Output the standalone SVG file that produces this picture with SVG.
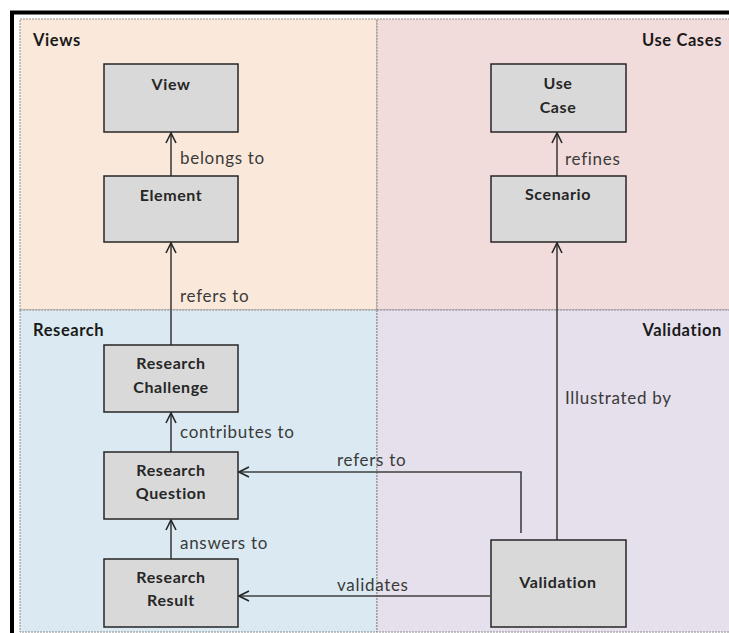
<svg xmlns="http://www.w3.org/2000/svg" width="729" height="633" viewBox="0 0 729 633">
<defs>
<style>
.node rect{fill:#D9D9D9;stroke:#262626;stroke-width:1.5}
.node text{font-family:Lato,"Open Sans","Liberation Sans",sans-serif;font-weight:bold;font-size:16px;letter-spacing:0.6px;fill:#262626;text-anchor:middle}
.title{font-family:Lato,"Open Sans","Liberation Sans",sans-serif;font-weight:bold;font-size:16.5px;letter-spacing:0.6px;fill:#1a1a1a}
.lbl{font-family:Lato,"Open Sans","Liberation Sans",sans-serif;font-size:17px;letter-spacing:0.7px;fill:#3a3a3a}
.conn{fill:none;stroke:#404040;stroke-width:1.6}
.quad{stroke:#8a8a8a;stroke-width:1;stroke-dasharray:2 1}
</style>
<marker id="arr" viewBox="0 0 12 12" refX="11" refY="6" markerWidth="12" markerHeight="12" markerUnits="userSpaceOnUse" orient="auto">
<path d="M1,1 L11,6 L1,11" fill="none" stroke="#262626" stroke-width="1.6"/>
</marker>
</defs>
<rect x="0" y="0" width="729" height="633" fill="#ffffff"/>
<g id="quadrants">
<rect class="quad" x="20" y="19" width="357" height="291" fill="#FAE9DA"/>
<rect class="quad" x="377" y="19" width="360" height="291" fill="#F2DCDB"/>
<rect class="quad" x="20" y="310" width="357" height="322" fill="#DBEAF2"/>
<rect class="quad" x="377" y="310" width="360" height="322" fill="#E5E0EC"/>
</g>
<path d="M12,640 L12,12.5 L729,12.5" fill="none" stroke="#000" stroke-width="4"/>
<text class="title" x="33" y="46">Views</text>
<text class="title" x="722" y="46" text-anchor="end">Use Cases</text>
<text class="title" x="33" y="336">Research</text>
<text class="title" x="722" y="336" text-anchor="end">Validation</text>
<g id="connectors">
<line class="conn" x1="171" y1="176" x2="171" y2="133" marker-end="url(#arr)"/>
<line class="conn" x1="171" y1="345" x2="171" y2="243" marker-end="url(#arr)"/>
<line class="conn" x1="171" y1="452" x2="171" y2="413" marker-end="url(#arr)"/>
<line class="conn" x1="171" y1="559" x2="171" y2="520" marker-end="url(#arr)"/>
<line class="conn" x1="557" y1="176" x2="557" y2="133" marker-end="url(#arr)"/>
<line class="conn" x1="557" y1="540" x2="557" y2="243" marker-end="url(#arr)"/>
<polyline class="conn" points="521,533 521,472 239,472" marker-end="url(#arr)"/>
<line class="conn" x1="490" y1="596" x2="239" y2="596" marker-end="url(#arr)"/>
<text class="lbl" x="180" y="164">belongs to</text>
<text class="lbl" x="180" y="302">refers to</text>
<text class="lbl" x="180" y="438">contributes to</text>
<text class="lbl" x="180" y="549">answers to</text>
<text class="lbl" x="565" y="165">refines</text>
<text class="lbl" x="565" y="404">Illustrated by</text>
<text class="lbl" x="337" y="466">refers to</text>
<text class="lbl" x="337" y="591">validates</text>
</g>
<g id="view" class="node"><rect x="104" y="64" width="134" height="68"/><text x="171" y="90">View</text></g>
<g id="element" class="node"><rect x="104" y="176" width="134" height="66"/><text x="171" y="201">Element</text></g>
<g id="usecase" class="node"><rect x="491" y="64" width="135" height="68"/><text x="558" y="89">Use</text><text x="558" y="113">Case</text></g>
<g id="scenario" class="node"><rect x="491" y="176" width="135" height="66"/><text x="558" y="200">Scenario</text></g>
<g id="challenge" class="node"><rect x="104" y="345" width="134" height="67"/><text x="171" y="369">Research</text><text x="171" y="393">Challenge</text></g>
<g id="question" class="node"><rect x="104" y="452" width="134" height="67"/><text x="171" y="476">Research</text><text x="171" y="499">Question</text></g>
<g id="result" class="node"><rect x="104" y="559" width="134" height="68"/><text x="171" y="583">Research</text><text x="171" y="606">Result</text></g>
<g id="validation" class="node"><rect x="491" y="540" width="135" height="87"/><text x="558" y="588">Validation</text></g>
</svg>
